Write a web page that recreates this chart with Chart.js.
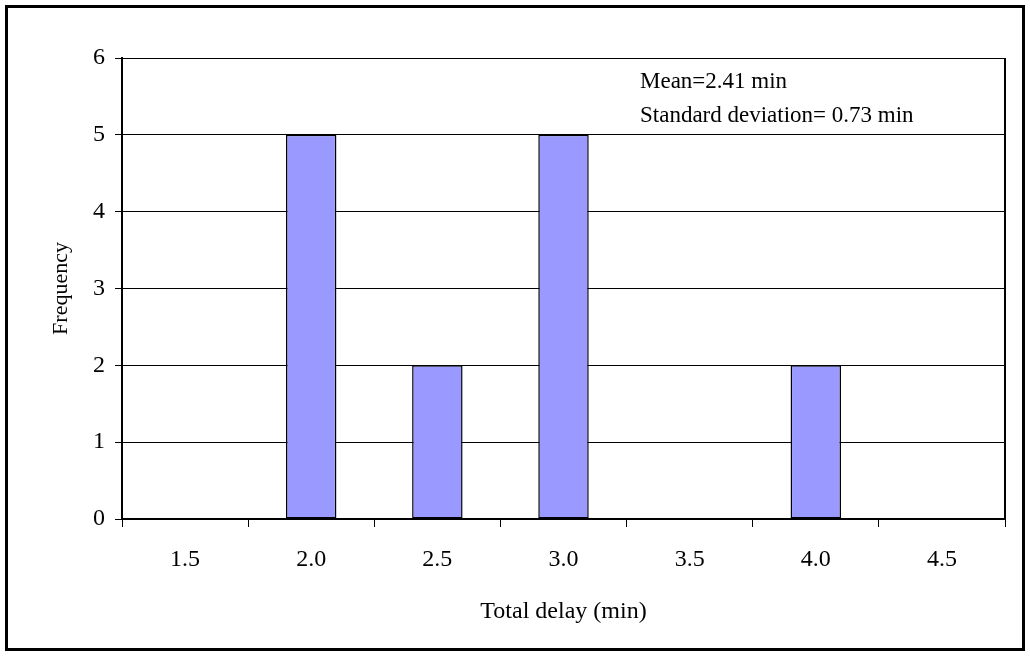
<!DOCTYPE html>
<html>
<head>
<meta charset="utf-8">
<script src="https://cdn.jsdelivr.net/npm/chart.js@4/dist/chart.umd.min.js"></script>
<style>
  html, body { margin: 0; padding: 0; background: #fff; }
  #wrap { width: 1030px; height: 656px; position: relative; }
</style>
</head>
<body>
<div id="wrap"><canvas id="myChart" width="1030" height="656"></canvas></div>
<script>
// delay bins and how many runs fell in each
const delayBins = ["1.5", "2.0", "2.5", "3.0", "3.5", "4.0", "4.5"];
const frequency = [0, 5, 2, 5, 0, 2, 0];
const yTicks = [0, 1, 2, 3, 4, 5, 6];
const statsText = ["Mean=2.41 min", "Standard deviation= 0.73 min"];

const FONT = "'Liberation Serif', 'Times New Roman', serif";

// frame around the whole figure, the plot box edges and the stats note
const framePlugin = {
  id: "frame",
  beforeDraw(chart) {
    const ctx = chart.ctx;
    ctx.save();
    ctx.fillStyle = "#fff";
    ctx.fillRect(0, 0, chart.width, chart.height);
    ctx.restore();
  },
  afterDraw(chart) {
    const ctx = chart.ctx;
    const a = chart.chartArea;
    ctx.save();
    ctx.strokeStyle = "#000";
    ctx.lineWidth = 3;
    ctx.strokeRect(6.5, 6.5, chart.width - 13, chart.height - 13);
    ctx.lineWidth = 2;
    ctx.beginPath();
    ctx.moveTo(a.right, a.top);
    ctx.lineTo(a.right, a.bottom);
    ctx.stroke();
    ctx.fillStyle = "#000";
    ctx.font = "23px " + FONT;
    ctx.textBaseline = "middle";
    ctx.fillText(statsText[0], 640, 82);
    ctx.fillText(statsText[1], 640, 116);
    ctx.restore();
  }
};

const ctx = document.getElementById("myChart").getContext("2d");
const myChart = new Chart(ctx, {
  type: "bar",
  data: {
    labels: delayBins,
    datasets: [
      {
        label: "Frequency",
        data: frequency,
        backgroundColor: "#9999FF",
        borderColor: "#000",
        borderWidth: 1.5,
        borderSkipped: false,
        barPercentage: 0.4,
        categoryPercentage: 1.0,
      },
    ],
  },
  options: {
    responsive: false,
    animation: false,
    layout: { padding: { left: 48, top: 58, right: 25, bottom: 30 } },
    plugins: {
      legend: { display: false },
      tooltip: { enabled: false },
    },
    scales: {
      x: {
        offset: true,
        grid: {
          offset: true,
          drawOnChartArea: false,
          drawTicks: true,
          tickLength: 8,
          color: "#000",
          lineWidth: 1,
        },
        border: { color: "#000", width: 2 },
        ticks: { color: "#000", font: { family: FONT, size: 24 }, padding: 18, maxRotation: 0 },
        title: {
          display: true,
          text: "Total delay (min)",
          color: "#000",
          font: { family: FONT, size: 24 },
          padding: { top: 4, bottom: 0 },
        },
        afterFit(scale) { scale.height = 107; },
      },
      y: {
        min: 0,
        max: 6,
        afterBuildTicks(scale) { scale.ticks = yTicks.map(v => ({ value: v })); },
        grid: {
          color: "#000",
          lineWidth: 1,
          drawTicks: true,
          tickLength: 7,
        },
        border: { color: "#000", width: 2 },
        ticks: { color: "#000", font: { family: FONT, size: 24 }, padding: 10 },
        title: {
          display: true,
          text: "Frequency",
          color: "#000",
          font: { family: FONT, size: 22 },
          padding: 0,
        },
        afterFit(scale) { scale.width = 74; },
      },
    },
  },
  plugins: [framePlugin],
});
</script>
</body>
</html>
